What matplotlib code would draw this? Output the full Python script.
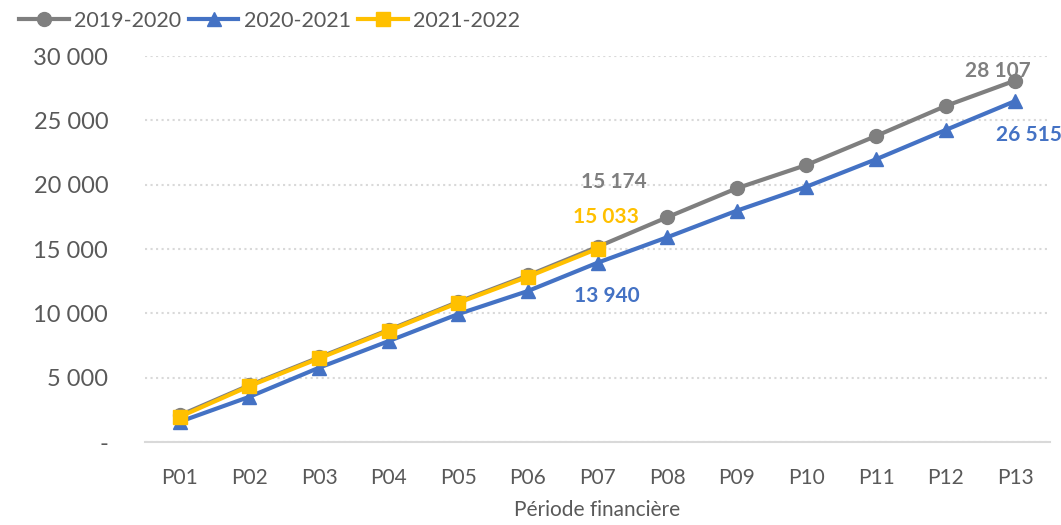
import matplotlib.pyplot as plt
from matplotlib.ticker import FuncFormatter

periods = ["P01", "P02", "P03", "P04", "P05", "P06", "P07",
           "P08", "P09", "P10", "P11", "P12", "P13"]
y2019 = [2080, 4420, 6580, 8720, 10900, 12950, 15174,
         17473, 19728, 21540, 23795, 26128, 28107]
y2020 = [1580, 3520, 5780, 7850, 9953, 11742, 13940,
         15918, 17986, 19852, 21983, 24261, 26515]
y2021 = [1967, 4355, 6508, 8655, 10832, 12854, 15033]

GRAY, BLUE, GOLD = "#7F7F7F", "#4472C4", "#FFC000"
TXT = "#595959"

plt.rcParams['font.family'] = ['Lato', 'DejaVu Sans']

fig = plt.figure(figsize=(10.61, 5.25), dpi=100)
ax = fig.add_axes([0.1367, 0.158, 0.853, 0.735])

x = list(range(len(periods)))
ax.plot(x, y2019, color=GRAY, lw=3, marker='o', ms=10, label='2019-2020')
ax.plot(x, y2020, color=BLUE, lw=3, marker='^', ms=10, label='2020-2021')
ax.plot(x[:len(y2021)], y2021, color=GOLD, lw=3, marker='s', ms=10, label='2021-2022')

ax.set_xlim(-0.5, len(periods) - 0.5)
ax.set_ylim(0, 30000)
ax.set_yticks(range(0, 30001, 5000))
ax.yaxis.set_major_formatter(FuncFormatter(
    lambda v, p: '-' if v == 0 else f"{int(v):,}".replace(',', ' ')))
ax.set_xticks(x)
ax.set_xticklabels(periods, fontsize=15, color=TXT)
ax.tick_params(axis='y', labelsize=17, labelcolor=TXT, length=0, pad=26.5)
ax.tick_params(axis='x', length=0, pad=19)

ax.grid(axis='y', color='#D9D9D9', linestyle=':', linewidth=1.5)
ax.set_axisbelow(True)
for s in ['top', 'right', 'left']:
    ax.spines[s].set_visible(False)
ax.spines['bottom'].set_color('#D9D9D9')
ax.spines['bottom'].set_linewidth(1.5)

ax.set_xlabel('Période financière', fontsize=15, color=TXT, labelpad=8)

def label(i, v, color, dx, dy):
    ax.annotate(f"{v:,}".replace(',', ' '), (i, v), xytext=(dx, dy),
                textcoords='offset points', ha='center', va='center',
                fontsize=15, fontweight='bold', color=color)

label(6, y2019[6], GRAY, 11.5, 46.8)
label(6, y2021[6], GOLD, 5.8, 22.8)
label(6, y2020[6], BLUE, 6.5, -23.8)
label(12, y2019[12], GRAY, -12.2, 6.8)
label(12, y2020[12], BLUE, 10, -24.5)

fig.legend(loc='upper left', bbox_to_anchor=(0.008, 1.0), ncol=3, frameon=False,
           fontsize=15.5, labelcolor=TXT, handlelength=2.3, handletextpad=0.25,
           columnspacing=0.35, borderaxespad=0.1)

fig.savefig('out.png', dpi=100)
